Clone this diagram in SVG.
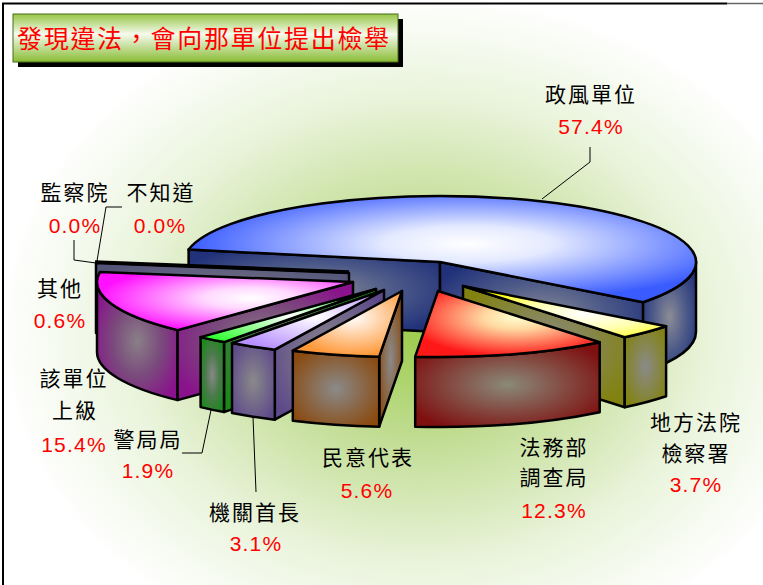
<svg xmlns="http://www.w3.org/2000/svg" width="763" height="585" viewBox="0 0 763 585">
<defs>
<style>
.o{stroke:#000;stroke-width:2.5;stroke-linejoin:round}
.lb{font-family:"Noto Sans CJK TC","Noto Sans CJK SC",sans-serif;font-size:21px;letter-spacing:2px;fill:#000;text-anchor:middle}
.pc{font-family:"Liberation Sans",Arial,sans-serif;font-size:21px;letter-spacing:1.2px;fill:#ff0000;text-anchor:middle}
.ld{fill:none;stroke:#000;stroke-width:1}
</style>
<radialGradient id="bg" gradientUnits="userSpaceOnUse" cx="420" cy="330" r="420" gradientTransform="translate(420 330) scale(1 0.8) translate(-420 -330)">
<stop offset="0" stop-color="#9ccc4c"/><stop offset="0.35" stop-color="#c4de98"/><stop offset="0.7" stop-color="#eaf4dc"/><stop offset="1" stop-color="#ffffff"/>
</radialGradient>
<linearGradient id="tg" x1="0" y1="0" x2="0" y2="1">
<stop offset="0" stop-color="#96c646"/><stop offset="0.42" stop-color="#f6faee"/><stop offset="1" stop-color="#88bc34"/>
</linearGradient>
<radialGradient id="tBlue" cx="0.55" cy="0.45" r="0.55"><stop offset="0" stop-color="#ffffff"/><stop offset="0.3" stop-color="#e4eaff"/><stop offset="1" stop-color="#3a5cff"/></radialGradient>
<radialGradient id="sBlue" cx="0.5" cy="0.5" r="0.6"><stop offset="0" stop-color="#8c8c96"/><stop offset="0.55" stop-color="#4a5888"/><stop offset="1" stop-color="#22327a"/></radialGradient>
<radialGradient id="sGray" cx="0.5" cy="0.5" r="0.6"><stop offset="0" stop-color="#7a7a8a"/><stop offset="1" stop-color="#55557a"/></radialGradient>
<radialGradient id="tMag" cx="0.6" cy="0.45" r="0.6"><stop offset="0" stop-color="#ffffff"/><stop offset="0.3" stop-color="#ffd8ff"/><stop offset="1" stop-color="#ff10ff"/></radialGradient>
<radialGradient id="sMag" cx="0.5" cy="0.5" r="0.6"><stop offset="0" stop-color="#8a8088"/><stop offset="0.5" stop-color="#7a4a7c"/><stop offset="1" stop-color="#8a128c"/></radialGradient>
<radialGradient id="tGrn" cx="0.5" cy="0.5" r="0.6"><stop offset="0" stop-color="#ffffff"/><stop offset="1" stop-color="#30ff30"/></radialGradient>
<radialGradient id="sGrn" cx="0.5" cy="0.5" r="0.6"><stop offset="0" stop-color="#888888"/><stop offset="0.5" stop-color="#4a7a4a"/><stop offset="1" stop-color="#188a18"/></radialGradient>
<radialGradient id="tLav" cx="0.55" cy="0.45" r="0.6"><stop offset="0" stop-color="#ffffff"/><stop offset="1" stop-color="#b890ff"/></radialGradient>
<radialGradient id="sLav" cx="0.5" cy="0.5" r="0.6"><stop offset="0" stop-color="#8a8a8a"/><stop offset="1" stop-color="#5e4a8a"/></radialGradient>
<radialGradient id="tOrg" cx="0.55" cy="0.4" r="0.6"><stop offset="0" stop-color="#ffffff"/><stop offset="1" stop-color="#ff9838"/></radialGradient>
<radialGradient id="sOrg" cx="0.5" cy="0.5" r="0.6"><stop offset="0" stop-color="#8a8a8a"/><stop offset="1" stop-color="#8a4a10"/></radialGradient>
<radialGradient id="tRed" cx="0.55" cy="0.4" r="0.6"><stop offset="0" stop-color="#ffffd0"/><stop offset="0.3" stop-color="#ffd8a0"/><stop offset="1" stop-color="#ff1818"/></radialGradient>
<radialGradient id="sRed" cx="0.5" cy="0.5" r="0.6"><stop offset="0" stop-color="#8a8a78"/><stop offset="1" stop-color="#7e1010"/></radialGradient>
<radialGradient id="tYel" cx="0.6" cy="0.55" r="0.6"><stop offset="0" stop-color="#ffffff"/><stop offset="0.5" stop-color="#ffffb0"/><stop offset="1" stop-color="#ffff00"/></radialGradient>
<radialGradient id="sYel" cx="0.5" cy="0.5" r="0.6"><stop offset="0" stop-color="#8a8a8a"/><stop offset="1" stop-color="#828210"/></radialGradient>
</defs>

<g id="background">
<rect x="0" y="0" width="763" height="585" fill="#ffffff"/>
<rect x="3" y="3" width="760" height="582" fill="url(#bg)"/>
<path d="M3,586 L3,3.5 L727,3.5" fill="none" stroke="#000" stroke-width="2"/>
<path d="M727,3.5 L763,3.5" fill="none" stroke="#666" stroke-width="1.5"/>
</g>

<g id="title">
<rect x="18" y="19" width="385" height="48" fill="#000"/>
<rect x="13" y="14" width="385" height="48" fill="url(#tg)" stroke="#4a6a1a" stroke-width="1"/>
<text x="17" y="48" font-family="Noto Sans CJK TC, Noto Sans CJK SC, sans-serif" font-size="25" letter-spacing="1.7" fill="#ff0000">發現違法，會向那單位提出檢舉</text>
</g>

<g id="connectors">
<polyline class="ld" points="590,147 590,162 542,199"/>
<polyline class="ld" points="74,240 74,260 96,263"/>
<polyline class="ld" points="122,207 106,207 97,261"/>
<polyline class="ld" points="182,453 202,453 211,410"/>
<polyline class="ld" points="253,417 256,492"/>
</g>

<g id="slice-zhengfeng">
<path class="o" d="M188.6,249.6 L440,262 L440,332 L188.6,319.6 Z" fill="url(#sBlue)"/>
<path class="o" d="M440,262 L643.1,302.2 L643.1,372.2 L440,332 Z" fill="url(#sBlue)"/>
<path class="o" d="M643.1,302.2 A256,66 0 0 0 696,262 L696,332 A256,66 0 0 1 643.1,372.2 Z" fill="url(#sBlue)"/>
<path class="o" d="M440,262 L643.1,302.2 A256,66 0 1 0 188.6,249.6 Z" fill="url(#tBlue)"/>
<text class="lb" x="591" y="102">政風單位</text>
<text class="pc" x="591" y="134">57.4%</text>
</g>

<g id="slice-jianchayuan">
<text class="lb" x="75" y="200">監察院</text>
<text class="pc" x="75" y="233">0.0%</text>
</g>

<g id="slice-buzhidao">
<text class="lb" x="161" y="200">不知道</text>
<text class="pc" x="160" y="233">0.0%</text>
</g>

<g id="slice-qita">
<path class="o" d="M349,273 L96,263 L96,333 L349,343 Z" fill="url(#sGray)"/>
<path d="M95,262 L349,272" stroke="#000" stroke-width="3.5" fill="none"/>
<text class="lb" x="60" y="296">其他</text>
<text class="pc" x="60" y="328">0.6%</text>
</g>

<g id="slice-gaidanwei">
<path class="o" d="M97,282 A256,66 0 0 0 177.6,330.1 L177.6,400.1 A256,66 0 0 1 97,352 Z" fill="url(#sMag)"/>
<path class="o" d="M353,282 L177.6,330.1 L177.6,400.1 L353,352 Z" fill="url(#sMag)"/>
<path class="o" d="M353,282 L99.9,272 A256,66 0 0 0 177.6,330.1 Z" fill="url(#tMag)"/>
<text class="lb" x="74" y="386">該單位</text>
<text class="lb" x="75" y="418">上級</text>
<text class="pc" x="74" y="452">15.4%</text>
</g>

<g id="slice-jingju">
<path class="o" d="M376,289 L224,342.1 L224,412.1 L376,359 Z" fill="url(#sGrn)"/>
<path class="o" d="M200.6,337.1 A256,66 0 0 0 224,342.1 L224,412.1 A256,66 0 0 1 200.6,407.1 Z" fill="url(#sGrn)"/>
<path class="o" d="M376,289 L200.6,337.1 A256,66 0 0 0 224,342.1 Z" fill="url(#tGrn)"/>
<text class="lb" x="148" y="447">警局局</text>
<text class="pc" x="148" y="478">1.9%</text>
</g>

<g id="slice-jiguan">
<path class="o" d="M384,290 L274.8,349.7 L274.8,419.7 L384,360 Z" fill="url(#sLav)"/>
<path class="o" d="M232,343.1 A256,66 0 0 0 274.8,349.7 L274.8,419.7 A256,66 0 0 1 232,413.1 Z" fill="url(#sLav)"/>
<path class="o" d="M384,290 L232,343.1 A256,66 0 0 0 274.8,349.7 Z" fill="url(#tLav)"/>
<text class="lb" x="255" y="520">機關首長</text>
<text class="pc" x="256" y="551">3.1%</text>
</g>

<g id="slice-difang">
<path class="o" d="M463,286 L624.7,337.2 L624.7,407.2 L463,356 Z" fill="url(#sYel)"/>
<path class="o" d="M624.7,337.2 A256,66 0 0 0 666.1,326.2 L666.1,396.2 A256,66 0 0 1 624.7,407.2 Z" fill="url(#sYel)"/>
<path class="o" d="M463,286 L624.7,337.2 A256,66 0 0 0 666.1,326.2 Z" fill="url(#tYel)"/>
<text class="lb" x="696" y="430">地方法院</text>
<text class="lb" x="696" y="461">檢察署</text>
<text class="pc" x="696" y="492">3.7%</text>
</g>

<g id="slice-minyi">
<path class="o" d="M402,291 L379.2,356.7 L379.2,426.7 L402,361 Z" fill="url(#sOrg)"/>
<path class="o" d="M292.8,350.7 A256,66 0 0 0 379.2,356.7 L379.2,426.7 A256,66 0 0 1 292.8,420.7 Z" fill="url(#sOrg)"/>
<path class="o" d="M402,291 L292.8,350.7 A256,66 0 0 0 379.2,356.7 Z" fill="url(#tOrg)"/>
<text class="lb" x="368" y="465">民意代表</text>
<text class="pc" x="367" y="498">5.6%</text>
</g>

<g id="slice-fawubu">
<path class="o" d="M415.2,356.7 A256,66 0 0 0 599.7,342.2 L599.7,412.2 A256,66 0 0 1 415.2,426.7 Z" fill="url(#sRed)"/>
<path class="o" d="M438,291 L415.2,356.7 A256,66 0 0 0 599.7,342.2 Z" fill="url(#tRed)"/>
<text class="lb" x="554" y="455">法務部</text>
<text class="lb" x="554" y="485">調查局</text>
<text class="pc" x="554" y="518">12.3%</text>
</g>
</svg>
